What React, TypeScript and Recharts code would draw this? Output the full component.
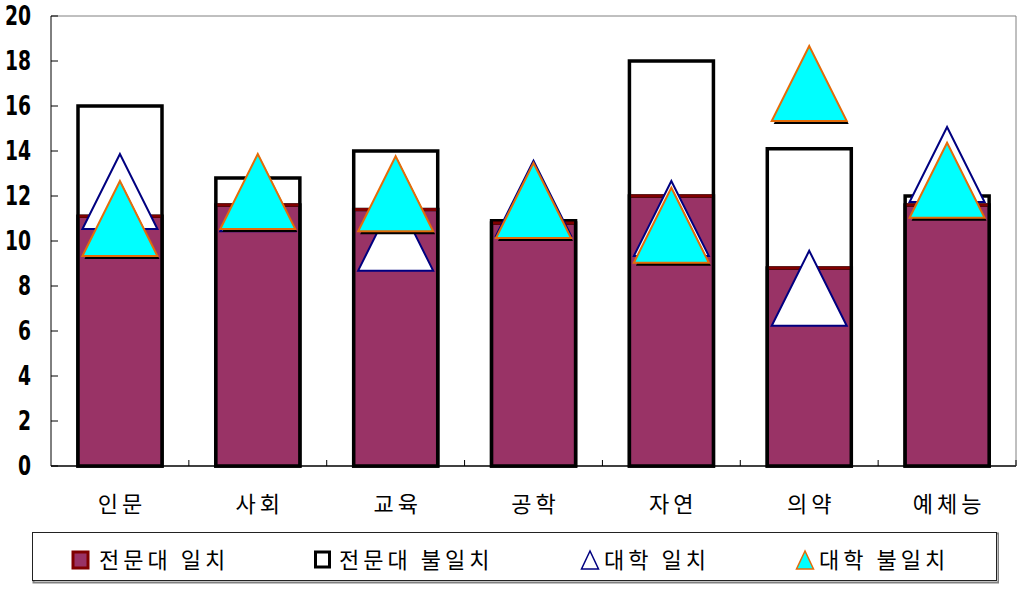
import React from 'react';
import { ComposedChart, Bar, Line, XAxis, YAxis, ReferenceLine, Legend } from 'recharts';

const categories = ['인문', '사회', '교육', '공학', '자연', '의약', '예체능'];
const collegeMatch = [11.1, 11.6, 11.4, 10.8, 12.0, 8.8, 11.6];
const collegeMismatch = [16.0, 12.8, 14.0, 10.9, 18.0, 14.1, 12.0];
const univMatch = [12.2, 12.1, 10.35, 11.9, 11.0, 7.9, 13.4];
const univMismatch = [11.0, 12.2, 12.1, 11.8, 10.7, 17.0, 12.7];
const yTicks = [0, 2, 4, 6, 8, 10, 12, 14, 16, 18, 20];
const seriesNames = ['전문대 일치', '전문대 불일치', '대학 일치', '대학 불일치'];

const data = categories.map((c, i) => ({
  name: c,
  cm: collegeMatch[i],
  cmm: collegeMismatch[i],
  um: univMatch[i],
  umm: univMismatch[i],
}));

const W = 1024;
const H = 593;
const M = { top: 16, right: 0, left: 0, bottom: 0 };
const Y_W = 51;
const R_W = 8;
const X_H = 127;
const PLOT_W = W - Y_W - R_W;
const BAND = PLOT_W / categories.length;
const KFONT = '"Noto Sans CJK KR", "Noto Sans", sans-serif';
const NUMFONT = '"DejaVu Sans", sans-serif';

const MaroonBar = (props: any) => {
  const { x, y, width, height } = props;
  if (height == null || height <= 0) return null;
  return (
    <g>
      <rect x={x} y={y} width={width} height={height} fill="#993366" stroke="#000" strokeWidth={3.5} />
      <line x1={x + 1.5} x2={x + width - 1.5} y1={y} y2={y} stroke="#800000" strokeWidth={3} />
    </g>
  );
};

const WhiteBar = (props: any) => {
  const { x, y, width, height } = props;
  if (height == null || height <= 0) return null;
  return <rect x={x} y={y} width={width} height={height} fill="#fff" stroke="#000" strokeWidth={3.5} />;
};

const tri = (cx: number, cy: number, w: number, h: number) =>
  `${cx},${cy - h / 2} ${cx - w / 2},${cy + h / 2} ${cx + w / 2},${cy + h / 2}`;

const WhiteTri = (props: any) => {
  const { cx, cy, index } = props;
  if (cx == null || cy == null) return null;
  return <polygon key={`w${index}`} points={tri(cx, cy, 75, 75)} fill="#fff" stroke="#000080" strokeWidth={2} />;
};

const CyanTri = (props: any) => {
  const { cx, cy, index } = props;
  if (cx == null || cy == null) return null;
  return (
    <g key={`c${index}`}>
      <polygon points={tri(cx + 2, cy + 3, 75, 75)} fill="#000" />
      <polygon points={tri(cx, cy, 75, 75)} fill="#00FFFF" stroke="#E46C0A" strokeWidth={2} />
    </g>
  );
};

const YTick = (props: any) => {
  const { x, y, payload } = props;
  return (
    <g>
      <line x1={x} x2={x + 7} y1={y} y2={y} stroke="#000" strokeWidth={1} />
      <text
        transform={`translate(${x - 20},${y}) scale(0.72,1)`}
        dy="0.36em"
        textAnchor="end"
        fontFamily={NUMFONT}
        fontWeight="bold"
        fontSize={26}
        fill="#000"
      >
        {payload.value}
      </text>
    </g>
  );
};

const XTick = (props: any) => {
  const { x, y, payload } = props;
  const bx = x + BAND / 2;
  return (
    <g>
      <line x1={bx} x2={bx} y1={y} y2={y - 6} stroke="#000" strokeWidth={1} />
      <text x={x + 2} y={y + 38} dy="0.36em" textAnchor="middle" fontFamily={KFONT} fontSize={22} letterSpacing={4} fill="#000">
        {payload.value}
      </text>
    </g>
  );
};

const LegendContent = () => {
  const ty = 28;
  const txt = (x: number, s: string) => (
    <text x={x} y={ty} dy="0.36em" fontFamily={KFONT} fontSize={22} letterSpacing={4} fill="#000">
      {s}
    </text>
  );
  return (
    <svg width={967} height={52} style={{ display: 'block' }}>
      <rect x={1.5} y={1.5} width={965} height={49} fill="#fff" stroke="#808080" strokeWidth={2} />
      <rect x={0.5} y={0.5} width={964} height={48} fill="#fff" stroke="#222" strokeWidth={1} />
      <rect x={41} y={20} width={15} height={16} fill="#993366" stroke="#800000" strokeWidth={3} />
      {txt(67, seriesNames[0])}
      <rect x={283.5} y={20} width={14} height={15} fill="#fff" stroke="#000" strokeWidth={3} />
      {txt(307, seriesNames[1])}
      <polygon points={tri(558, 28, 17, 18)} fill="#fff" stroke="#000080" strokeWidth={1.5} />
      {txt(572, seriesNames[2])}
      <polygon points={tri(773, 28, 17, 18)} fill="#00FFFF" stroke="#E46C0A" strokeWidth={1.5} />
      {txt(787, seriesNames[3])}
    </svg>
  );
};

export default function App() {
  return (
    <div style={{ position: 'absolute', left: 0, top: 0, width: W, height: H, background: '#fff' }}>
      <ComposedChart width={W} height={H} data={data} margin={M}>
        <XAxis
          xAxisId="a"
          dataKey="name"
          height={X_H}
          tickLine={false}
          tickSize={0}
          tickMargin={0}
          axisLine={{ stroke: '#000', strokeWidth: 1.5 }}
          tick={<XTick />}
          interval={0}
        />
        <XAxis xAxisId="b" dataKey="name" hide />
        <YAxis
          yAxisId="l"
          width={Y_W}
          domain={[0, 20]}
          ticks={yTicks}
          tickLine={false}
          tickSize={0}
          tickMargin={0}
          axisLine={{ stroke: '#000', strokeWidth: 1 }}
          tick={<YTick />}
          interval={0}
        />
        <YAxis yAxisId="r" orientation="right" width={R_W} domain={[0, 20]} tick={false} tickLine={false} axisLine={{ stroke: '#808080', strokeWidth: 1 }} />
        <ReferenceLine xAxisId="a" yAxisId="l" y={20} stroke="#808080" strokeWidth={1} />
        <Bar xAxisId="b" yAxisId="l" dataKey="cmm" name={seriesNames[1]} barSize={84} shape={<WhiteBar />} isAnimationActive={false} />
        <Bar xAxisId="a" yAxisId="l" dataKey="cm" name={seriesNames[0]} barSize={84} shape={<MaroonBar />} isAnimationActive={false} />
        <Line xAxisId="a" yAxisId="l" dataKey="um" name={seriesNames[2]} stroke="none" dot={<WhiteTri />} activeDot={false} isAnimationActive={false} />
        <Line xAxisId="a" yAxisId="l" dataKey="umm" name={seriesNames[3]} stroke="none" dot={<CyanTri />} activeDot={false} isAnimationActive={false} />
        <Legend
          layout="horizontal"
          verticalAlign="middle"
          align="center"
          content={<LegendContent />}
          wrapperStyle={{ position: 'absolute', left: 32, top: 532, width: 967, height: 52 }}
        />
      </ComposedChart>
    </div>
  );
}
